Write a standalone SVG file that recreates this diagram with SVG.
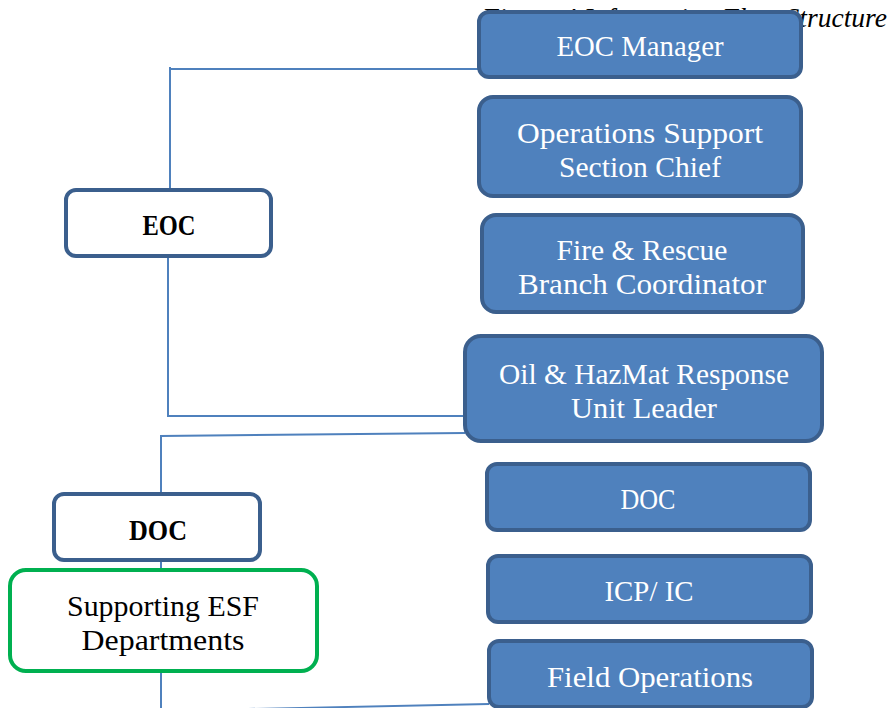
<svg xmlns="http://www.w3.org/2000/svg" width="890" height="708" viewBox="0 0 890 708">
<style>
.blue rect{fill:#4f81bd;stroke:#3b5f8d;stroke-width:4}
.blue text{fill:#ffffff;font-family:"Liberation Serif",serif;font-size:29px;text-anchor:middle}
.white rect{fill:#ffffff;stroke:#3b5f8d;stroke-width:4}
.green rect{fill:#ffffff;stroke:#00b050;stroke-width:4}
.lbl{fill:#000000;font-family:"Liberation Serif",serif;font-size:29px;text-anchor:middle}
.bold{font-weight:bold}
#connectors path{fill:none;stroke:#4f81bd;stroke-width:2}
.title{font-family:"Liberation Serif",serif;font-style:italic;font-size:27px;fill:#000;text-anchor:end}
</style>
<rect width="890" height="708" fill="#ffffff"/>
<text class="title" x="887" y="27" textLength="405" lengthAdjust="spacingAndGlyphs">Figure 4 Information Flow Structure</text>
<g id="connectors">
<path d="M170,67 V190 M170,69 H479"/>
<path d="M168,256 V416 H465"/>
<path d="M161,494 V436 L465,433"/>
<path d="M161,560 V570"/>
<path d="M161,671 V708"/>
<path d="M200,710 L489,704"/>
</g>
<g id="eoc-manager" class="blue"><rect x="479" y="12" width="322" height="65" rx="10"/><text x="640" y="56" textLength="167" lengthAdjust="spacingAndGlyphs">EOC Manager</text></g>
<g id="ops-support" class="blue"><rect x="479" y="97" width="322" height="99" rx="14"/><text x="640" y="143" textLength="246" lengthAdjust="spacingAndGlyphs">Operations Support</text><text x="640" y="177" textLength="162" lengthAdjust="spacingAndGlyphs">Section Chief</text></g>
<g id="fire-rescue" class="blue"><rect x="482" y="215" width="321" height="97" rx="14"/><text x="642" y="260" textLength="171" lengthAdjust="spacingAndGlyphs">Fire &amp; Rescue</text><text x="642" y="294" textLength="248" lengthAdjust="spacingAndGlyphs">Branch Coordinator</text></g>
<g id="oil-hazmat" class="blue"><rect x="465" y="336" width="357" height="105" rx="16"/><text x="644" y="384" textLength="290" lengthAdjust="spacingAndGlyphs">Oil &amp; HazMat Response</text><text x="644" y="418" textLength="146" lengthAdjust="spacingAndGlyphs">Unit Leader</text></g>
<g id="doc-right" class="blue"><rect x="487" y="464" width="323" height="66" rx="10"/><text x="648" y="509" textLength="55" lengthAdjust="spacingAndGlyphs">DOC</text></g>
<g id="icp-ic" class="blue"><rect x="488" y="556" width="323" height="66" rx="10"/><text x="649" y="601" textLength="89" lengthAdjust="spacingAndGlyphs">ICP/ IC</text></g>
<g id="field-ops" class="blue"><rect x="489" y="641" width="323" height="66" rx="10"/><text x="650" y="687" textLength="206" lengthAdjust="spacingAndGlyphs">Field Operations</text></g>
<g id="eoc" class="white"><rect x="66" y="190" width="205" height="66" rx="10"/><text class="lbl bold" x="169" y="235" textLength="53" lengthAdjust="spacingAndGlyphs">EOC</text></g>
<g id="doc" class="white"><rect x="54" y="494" width="206" height="66" rx="10"/><text class="lbl bold" x="158" y="540" textLength="58" lengthAdjust="spacingAndGlyphs">DOC</text></g>
<g id="esf" class="green"><rect x="10" y="570" width="307" height="101" rx="16"/><text class="lbl" x="163" y="616" textLength="192" lengthAdjust="spacingAndGlyphs">Supporting ESF</text><text class="lbl" x="163" y="650" textLength="163" lengthAdjust="spacingAndGlyphs">Departments</text></g>
</svg>
